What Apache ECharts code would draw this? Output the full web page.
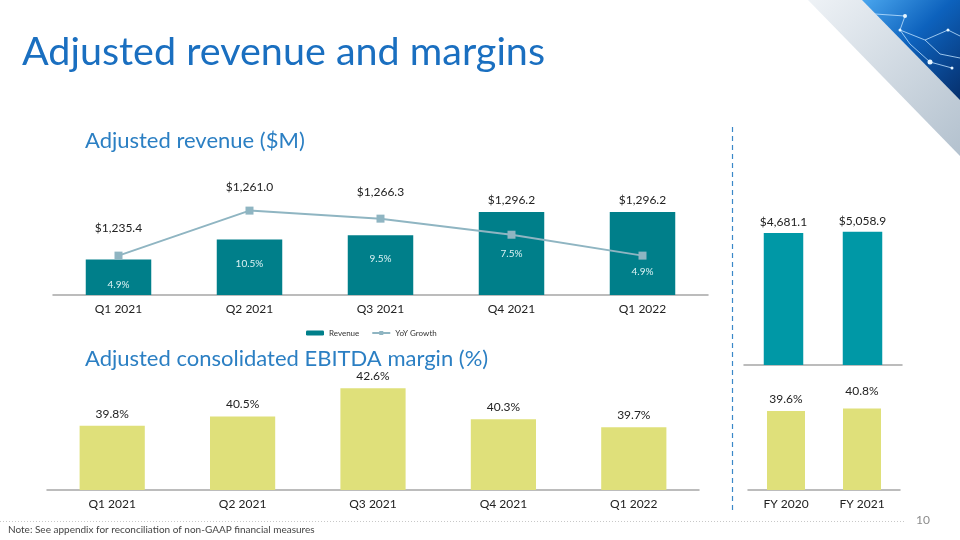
<!DOCTYPE html>
<html>
<head>
<meta charset="utf-8">
<script src="https://cdn.jsdelivr.net/npm/echarts@6/dist/echarts.min.js"></script>
<style>
html,body{margin:0;padding:0;background:#fff;}
#c{width:960px;height:540px;}
</style>
</head>
<body>
<div id="c"></div>
<script>
// ---- data ----
const quarters = ['Q1 2021', 'Q2 2021', 'Q3 2021', 'Q4 2021', 'Q1 2022'];
const revenue = [1235.4, 1261.0, 1266.3, 1296.2, 1296.2];
const yoyGrowth = [4.9, 10.5, 9.5, 7.5, 4.9];
const ebitdaMargin = [39.8, 40.5, 42.6, 40.3, 39.7];
const years = ['FY 2020', 'FY 2021'];
const fyRevenue = [4681.1, 5058.9];
const fyEbitdaMargin = [39.6, 40.8];

// ---- label placement (style only) ----
const revLabelDist = [25, 46, 37, 6, 6];
const yoyLabelDist = [20, 44, 31, 10, 7];
const fyEbitdaLabelDist = [6, 11];

const FONT = 'Lato, "Noto Sans", sans-serif';
const TEAL = '#007f8a';
const TEAL2 = '#0098a6';
const LINE = '#8fb5c2';
const YEL = '#dfe07a';
const AXIS = '#a6a6a6';

function money(v){ return '$' + v.toLocaleString('en-US',{minimumFractionDigits:1, maximumFractionDigits:1}); }
function pct(v){ return v.toFixed(1) + '%'; }

function catAxis(grid, data, showLabel){
  return {
    type:'category', gridIndex:grid, data:data,
    axisLine:{show:true, onZero:false, lineStyle:{color:AXIS, width:1.5}},
    axisTick:{show:false},
    axisLabel:{show:showLabel, color:'#222', fontSize:12, margin:8, fontFamily:FONT}
  };
}
function valAxis(grid, min, max){
  return {type:'value', gridIndex:grid, min:min, max:max, show:false, splitLine:{show:false}};
}

const chart = echarts.init(document.getElementById('c'), null, {renderer:'canvas'});

const option = {
  backgroundColor:'#fff',
  animation:false,
  textStyle:{fontFamily:FONT},
  grid:[
    {left:53, right:252, top:209, height:86},
    {left:744, right:58, top:209, height:156},
    {left:47, right:261, top:375, height:115},
    {left:748, right:60, top:375, height:115}
  ],
  xAxis:[
    catAxis(0, quarters, true),
    catAxis(1, years, false),
    catAxis(2, quarters, true),
    catAxis(3, years, true)
  ],
  yAxis:[
    valAxis(0, 1190, 1300),
    valAxis(0, 0, 10.7),
    {type:'log', gridIndex:1, logBase:10, min:1, max:21780, show:false, splitLine:{show:false}},
    valAxis(2, 35, 43.6),
    valAxis(3, 0, 57.6)
  ],
  legend:{
    data:['Revenue','YoY Growth'],
    left:301, top:324,
    itemWidth:18, itemHeight:5, itemGap:12,
    textStyle:{fontSize:8, color:'#333', fontFamily:FONT}
  },
  series:[
    {
      name:'Revenue', type:'bar', xAxisIndex:0, yAxisIndex:0, barWidth:'50%',
      itemStyle:{color:TEAL},
      data: revenue.map((v,i)=>({value:v, label:{distance:revLabelDist[i]}})),
      label:{show:true, position:'top', color:'#222', fontSize:12, formatter:p=>money(p.value)}
    },
    {
      name:'YoY Growth', type:'line', xAxisIndex:0, yAxisIndex:1,
      symbol:'rect', symbolSize:8, z:5,
      itemStyle:{color:LINE}, lineStyle:{color:LINE, width:2},
      data: yoyGrowth.map((v,i)=>({value:v, label:{distance:yoyLabelDist[i]}})),
      label:{show:true, position:'bottom', color:'#dcf2f4', fontSize:10, formatter:p=>pct(p.value)}
    },
    {
      name:'FY Revenue', type:'bar', xAxisIndex:1, yAxisIndex:2, barWidth:'50%',
      itemStyle:{color:TEAL2},
      data: fyRevenue,
      label:{show:true, position:'top', distance:5, color:'#222', fontSize:12, formatter:p=>money(p.value)}
    },
    {
      name:'EBITDA', type:'bar', xAxisIndex:2, yAxisIndex:3, barWidth:'50%',
      itemStyle:{color:YEL},
      data: ebitdaMargin,
      label:{show:true, position:'top', distance:6, color:'#222', fontSize:12, formatter:p=>pct(p.value)}
    },
    {
      name:'FY EBITDA', type:'bar', xAxisIndex:3, yAxisIndex:4, barWidth:'50%',
      itemStyle:{color:YEL},
      data: fyEbitdaMargin.map((v,i)=>({value:v, label:{distance:fyEbitdaLabelDist[i]}})),
      label:{show:true, position:'top', color:'#222', fontSize:12, formatter:p=>pct(p.value)}
    }
  ],
  graphic:[
    // decorative corner
    {type:'polygon', silent:true, z:0, shape:{points:[[808,0],[960,0],[960,156]]},
     style:{fill:new echarts.graphic.LinearGradient(0,0,1,1,[{offset:0,color:'#eef2f6'},{offset:1,color:'#b3c1ce'}])}},
    {type:'polygon', silent:true, z:0, shape:{points:[[862,0],[960,0],[960,100]]},
     style:{fill:new echarts.graphic.LinearGradient(0,0,1,1,[{offset:0,color:'#4aa6ee'},{offset:0.45,color:'#0d62bd'},{offset:1,color:'#062f6c'}])}},
    {type:'polyline', silent:true, z:1, shape:{points:[[875,14],[905,16],[900,30],[925,40],[948,30],[960,36]]}, style:{stroke:'#bfe2ff', lineWidth:0.8, fill:null}},
    {type:'polyline', silent:true, z:1, shape:{points:[[900,30],[910,44],[930,62],[952,68]]}, style:{stroke:'#bfe2ff', lineWidth:0.8, fill:null}},
    {type:'polyline', silent:true, z:1, shape:{points:[[925,40],[940,54],[960,58]]}, style:{stroke:'#bfe2ff', lineWidth:0.8, fill:null}},
    {type:'circle', silent:true, z:1, shape:{cx:905,cy:16,r:2}, style:{fill:'#e8f6ff'}},
    {type:'circle', silent:true, z:1, shape:{cx:900,cy:30,r:1.5}, style:{fill:'#e8f6ff'}},
    {type:'circle', silent:true, z:1, shape:{cx:930,cy:62,r:2.5}, style:{fill:'#e8f6ff'}},
    {type:'circle', silent:true, z:1, shape:{cx:948,cy:30,r:1.5}, style:{fill:'#e8f6ff'}},
    {type:'circle', silent:true, z:1, shape:{cx:952,cy:68,r:1.5}, style:{fill:'#e8f6ff'}},
    // title & section headings
    {type:'text', left:22, top:32, style:{text:'Adjusted revenue and margins', fill:'#1a6fc0', font:'39.5px '+FONT}},
    {type:'text', left:85, top:130, style:{text:'Adjusted revenue ($M)', fill:'#2b7fc3', font:'22px '+FONT}},
    {type:'text', left:85, top:348, style:{text:'Adjusted consolidated EBITDA margin (%)', fill:'#2b7fc3', font:'22px '+FONT}},
    // separator
    {type:'line', silent:true, shape:{x1:732.5,y1:127,x2:732.5,y2:510}, style:{stroke:'#3a88c8', lineWidth:1.2, lineDash:[5,4]}},
    // footer
    {type:'line', silent:true, shape:{x1:0,y1:521.5,x2:906,y2:521.5}, style:{stroke:'#c8c8c8', lineWidth:1, lineDash:[1,2]}},
    {type:'text', left:916, top:514, style:{text:'10', fill:'#8c8c8c', font:'12px '+FONT}},
    {type:'text', left:8, top:525, style:{text:'Note: See appendix for reconciliation of non-GAAP financial measures', fill:'#444', font:'10px '+FONT}}
  ]
};
chart.setOption(option);
</script>
</body>
</html>
